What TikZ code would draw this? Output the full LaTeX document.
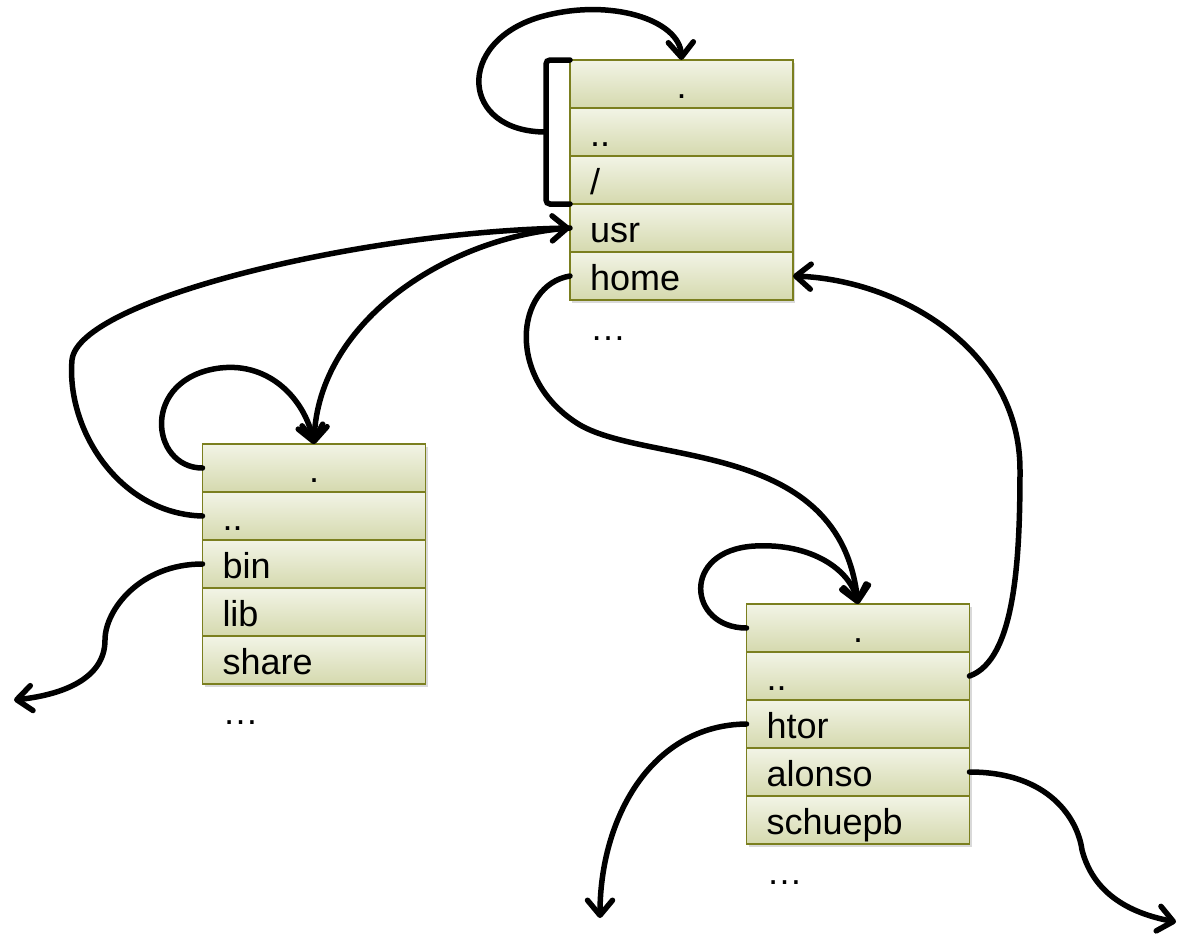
\documentclass[tikz,border=0pt]{standalone}
\usepackage{fontspec}
\setmainfont{Liberation Sans}
\usetikzlibrary{arrows.meta, positioning, calc, shadows}
\definecolor{dirtop}{HTML}{F2F4E6}
\definecolor{dirbot}{HTML}{D5D9AE}
\definecolor{dirline}{HTML}{7B7F1F}

\begin{document}
\begin{tikzpicture}[x=1pt, y=-1pt,
  entry/.style={rectangle, draw=dirline, line width=1.8pt, top color=dirtop, bottom color=dirbot,
    minimum width=223pt, minimum height=48pt, text width=183pt, inner xsep=20pt, inner ysep=0pt,
    outer sep=0pt, text height=38pt, text depth=10pt, align=left,
    font=\fontsize{36}{40}\selectfont,
    drop shadow={shadow xshift=2pt, shadow yshift=-3pt, opacity=.3}},
  dotentry/.style={entry, align=center},
  more/.style={anchor=base west, inner sep=0pt, font=\fontsize{36}{40}\selectfont},
  link/.style={line width=5.5pt, line cap=round, line join=round,
    -{Straight Barb[length=15pt, width=25pt, round]}},
  brace/.style={line width=5.5pt, line cap=round, rounded corners=4pt}
]
\useasboundingbox (0,0) rectangle (1181,937);

% Directory /
\node[dotentry] (rootdot) at (681.5,84) {.};
\node[entry, below=0pt of rootdot] (rootdotdot) {..};
\node[entry, below=0pt of rootdotdot] (rootslash) {/};
\node[entry, below=0pt of rootslash] (rootusr) {usr};
\node[entry, below=0pt of rootusr] (roothome) {home};
\node[more] (rootmore) at ($(roothome.south west)+(20,40)$) {…};

% Directory /usr
\node[dotentry] (usrdot) at (314,468) {.};
\node[entry, below=0pt of usrdot] (usrdotdot) {..};
\node[entry, below=0pt of usrdotdot] (usrbin) {bin};
\node[entry, below=0pt of usrbin] (usrlib) {lib};
\node[entry, below=0pt of usrlib] (usrshare) {share};
\node[more] (usrmore) at ($(usrshare.south west)+(20,40)$) {…};

% Directory /home
\node[dotentry] (homedot) at (858,628) {.};
\node[entry, below=0pt of homedot] (homedotdot) {..};
\node[entry, below=0pt of homedotdot] (homehtor) {htor};
\node[entry, below=0pt of homehtor] (homealonso) {alonso};
\node[entry, below=0pt of homealonso] (homeschuepb) {schuepb};
\node[more] (homemore) at ($(homeschuepb.south west)+(20,40)$) {…};

% Free ends
\coordinate (binout) at (14,700);
\coordinate (htorout) at (600,918);
\coordinate (alonsoout) at (1176,922);

% Brace over . .. / of the root
\draw[brace] (rootdot.north west) -- ++(-24,0) -- ($(rootslash.south west)+(-24,0)$) -- (rootslash.south west);
\coordinate (bracemid) at ($(rootdot.north west)!0.5!(rootslash.south west)+(-24,0)$);

% Links
\draw[link] (bracemid) .. controls (460,132) and (455,42) .. (540,17)
  .. controls (610,-3) and (680,20) .. (rootdot.north);
\draw[link] (usrdotdot.west) .. controls (120,514) and (66,430) .. (72,360)
  .. controls (78,300) and (360,232) .. (rootusr.west);
\draw[link] (rootusr.west) .. controls (450,236) and (318,320) .. (usrdot.north);
\draw[link] (usrdot.west) .. controls (150,468) and (140,378) .. (220,368)
  .. controls (270,362) and (305,400) .. (usrdot.north);
\draw[link] (usrbin.west) .. controls (140,564) and (105,610) .. (105,640)
  .. controls (105,680) and (60,695) .. (binout);
\draw[link] (roothome.west) .. controls (515,285) and (505,380) .. (580,425)
  .. controls (650,465) and (840,440) .. (homedot.north);
\draw[link] (homedot.west) .. controls (688,628) and (680,550) .. (755,546)
  .. controls (812,543) and (850,570) .. (homedot.north);
\draw[link] (homedotdot.east) .. controls (1015,660) and (1020,560) .. (1020,470)
  .. controls (1020,350) and (900,280) .. (roothome.east);
\draw[link] (homehtor.west) .. controls (650,725) and (600,820) .. (htorout);
\draw[link] (homealonso.east) .. controls (1050,772) and (1078,820) .. (1082,850)
  .. controls (1095,900) and (1140,915) .. (alonsoout);

\end{tikzpicture}
\end{document}
